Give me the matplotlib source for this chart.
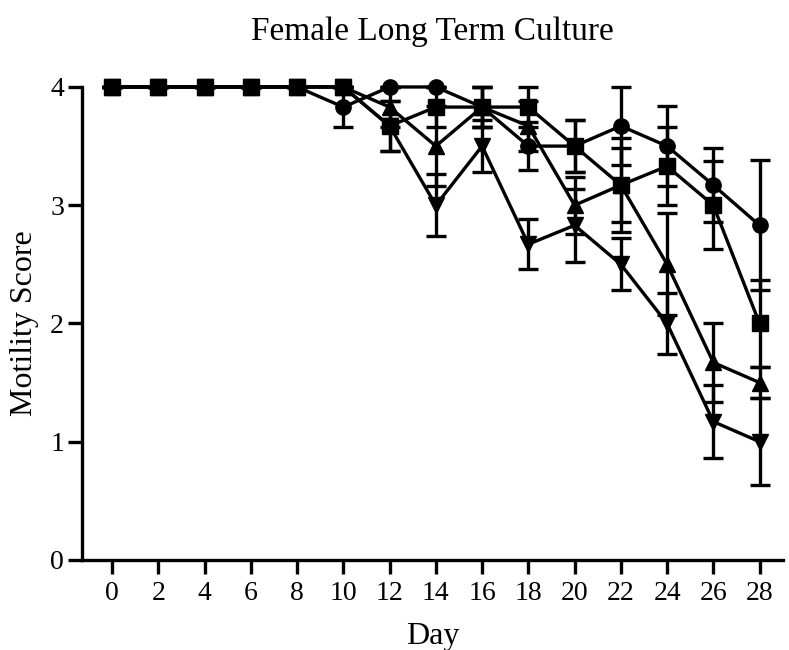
import matplotlib
import matplotlib.pyplot as plt

matplotlib.use('Agg')

plt.rcParams['font.family'] = ['Liberation Serif', 'DejaVu Serif']

days = [0, 2, 4, 6, 8, 10, 12, 14, 16, 18, 20, 22, 24, 26, 28]

# mean motility score and error per group
circle_y = [4, 4, 4, 4, 4, 3.83, 4, 4, 3.83, 3.5, 3.5, 3.67, 3.5, 3.17, 2.83]
circle_err = [0, 0, 0, 0, 0, 0.17, 0, 0, 0.17, 0.2, 0.22, 0.33, 0.34, 0.31, 0.55]

tri_up_y = [4, 4, 4, 4, 4, 4, 3.83, 3.5, 3.83, 3.67, 3.0, 3.17, 2.5, 1.67, 1.5]
tri_up_err = [0, 0, 0, 0, 0, 0, 0.17, 0.34, 0.17, 0.21, 0.24, 0.31, 0.43, 0.33, 0.13]

tri_down_y = [4, 4, 4, 4, 4, 4, 3.67, 3.0, 3.5, 2.67, 2.83, 2.5, 2.0, 1.17, 1.0]
tri_down_err = [0, 0, 0, 0, 0, 0, 0.21, 0.26, 0.22, 0.21, 0.31, 0.22, 0.26, 0.31, 0.37]

square_y = [4, 4, 4, 4, 4, 4, 3.67, 3.83, 3.83, 3.83, 3.5, 3.17, 3.33, 3.0, 2.0]
square_err = [0, 0, 0, 0, 0, 0, 0.21, 0.17, 0.17, 0.17, 0.22, 0.4, 0.33, 0.37, 0.37]

fig = plt.figure(figsize=(7.89, 6.5), dpi=100)
ax = fig.add_axes([0.104, 0.1385, 0.888, 0.7277])

series = [
    (circle_y, circle_err, 'o'),
    (tri_up_y, tri_up_err, '^'),
    (tri_down_y, tri_down_err, 'v'),
    (square_y, square_err, 's'),
]
for y, err, m in series:
    ax.errorbar(days, y, yerr=err, color='black', marker=m, markersize=11,
                linewidth=2.4, elinewidth=2.4, capsize=7, capthick=2.4,
                clip_on=False)

ax.set_xlim(-1.3, 29)
ax.set_ylim(0, 4)
ax.set_xticks(days)
ax.set_yticks([0, 1, 2, 3, 4])

for side in ['top', 'right']:
    ax.spines[side].set_visible(False)
for side in ['left', 'bottom']:
    ax.spines[side].set_linewidth(2.4)

ax.tick_params(direction='out', length=10, width=2.4, labelsize=20)
ax.tick_params(axis='x', pad=5)
ax.tick_params(axis='y', pad=3)

ax.set_title("Female Long Term Culture", fontsize=24, pad=34)
ax.set_xlabel("Day", fontsize=23, labelpad=12)
ax.set_ylabel("Motility Score", fontsize=23, labelpad=8)

plt.savefig("out.png", dpi=100)
plt.close()
